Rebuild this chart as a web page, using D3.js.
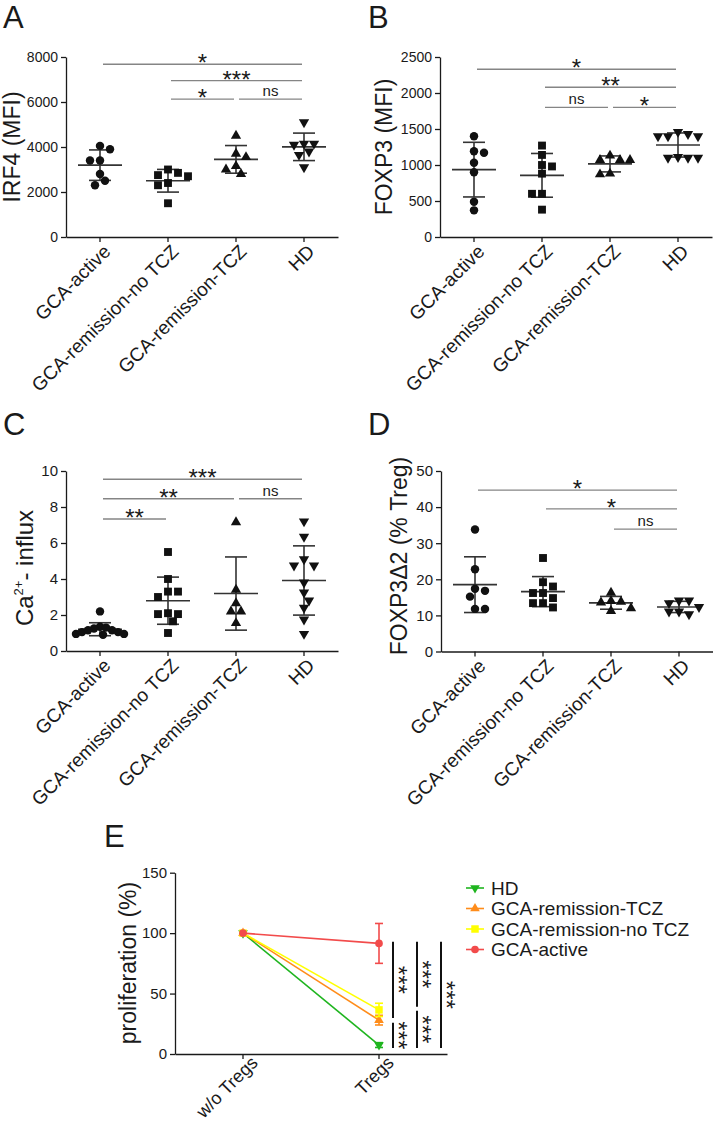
<!DOCTYPE html>
<html><head><meta charset="utf-8">
<script src="https://cdn.jsdelivr.net/npm/d3@7"></script>
<style>
body{margin:0;background:#fff}
text{font-family:"Liberation Sans",Arial,Helvetica,sans-serif}
</style>
</head><body>
<svg id="fig" width="713" height="1122"></svg>
<script>
// ---------------- DATA ----------------
const groups = ["GCA-active","GCA-remission-no TCZ","GCA-remission-TCZ","HD"];

// Panel A: IRF4 (MFI)
const irf4Active = [3900,4050,3400,3400,2800,2300,2500];
const irf4NoTcz  = [3000,2750,2700,2850,2400,2300,1500];
const irf4Tcz    = [4500,3700,3550,3150,3000,2800];
const irf4Hd     = [5100,4150,4150,4100,3800,3650,3100];
const irf4Ticks  = [0,2000,4000,6000,8000];
const irf4Sig    = [{a:0,b:3,y:7675,t:"*"},{a:1,b:3,y:6950,t:"***"},{a:1,b:2,y:6130,t:"*"},{a:2,b:3,y:6130,t:"ns"}];

// Panel B: FOXP3 (MFI)
const foxp3Active = [1400,1170,1190,1030,900,490,370];
const foxp3NoTcz  = [1270,1140,1000,980,880,600,600,380];
const foxp3Tcz    = [1130,1070,1070,1070,870,880];
const foxp3Hd     = [1430,1400,1400,1400,1460,1110,1100,1100,1100];
const foxp3Ticks  = [0,500,1000,1500,2000,2500];
const foxp3Sig    = [{a:0,b:3,y:2330,t:"*"},{a:1,b:3,y:2080,t:"**"},{a:1,b:2,y:1800,t:"ns"},{a:2,b:3,y:1800,t:"*"}];

// Panel C: Ca2+ influx
const caActive = [2.2,1.35,1.25,1.15,1.05,0.95,0.9,0.95,1.05,1.15,1.3];
const caNoTcz  = [5.5,4.0,3.3,3.3,3.0,2.05,2.05,2.1,1.65,1.0];
const caTcz    = [7.15,3.4,2.65,2.2,2.2,1.55];
const caHd     = [7.2,6.35,5.1,4.75,4.75,3.8,3.25,2.8,2.4,1.75,0.95];
const caTicks  = [0,2,4,6,8,10];
const caSig    = [{a:0,b:3,y:9.54,t:"***"},{a:0,b:2,y:8.46,t:"**"},{a:2,b:3,y:8.46,t:"ns"},{a:0,b:1,y:7.33,t:"**"}];

// Panel D: FOXP3Δ2 (% Treg)
const d2Active = [33.8,22.8,16.8,17.4,15.2,11.8,11.8];
const d2NoTcz  = [25.9,19.2,18.0,16.2,16.2,14.8,13.4,13.4,12.2];
const d2Tcz    = [16.3,13.6,14.0,13.8,11.2,12.0];
const d2Hd     = [13.4,14.1,14.1,12.3,11.1,10.3,11.1];
const d2Ticks  = [0,10,20,30,40,50];
const d2Sig    = [{a:0,b:3,y:44.7,t:"*"},{a:1,b:3,y:39.5,t:"*"},{a:2,b:3,y:33.9,t:"ns"}];

// Panel E: proliferation (%)
const eCats    = ["w/o Tregs","Tregs"];
const eSeries  = ["HD","GCA-remission-TCZ","GCA-remission-no TCZ","GCA-active"];
const eHd      = [100,7.4];   const eHdErr     = [0,2];
const eTcz     = [100,28];    const eTczErr    = [0,4];
const eNoTcz   = [100,36.5];  const eNoTczErr  = [0,5.5];
const eActive  = [100,91.5];  const eActiveErr = [0,16.5];
const eTicks   = [0,50,100,150];
const eSig     = [{col:0,y1:92.9,y2:29.8,t:"***"},{col:0,y1:25.9,y2:5,t:"***"},
                  {col:1,y1:92.9,y2:39.1,t:"***"},{col:1,y1:35.8,y2:5,t:"***"},
                  {col:2,y1:92.9,y2:5,t:"***"}];

// ---------------- DRAWING ----------------
const svg = d3.select("#fig");
const INK = "#1a1a1a", GRAY = "#858585";
const shapes = [d3.symbolCircle, d3.symbolSquare, d3.symbolTriangle, d3.symbolTriangle];
const shapeSizes = [56, 62, 46, 46];
const shapeRot = [0, 0, 0, 180];

function swarm(values, y, minDist, step, maxW) {
  const order = values.map((v,i)=>i).sort((a,b)=>values[b]-values[a]);
  const placed = [], off = new Array(values.length);
  let side = 1;
  for (const i of order) {
    const py = y(values[i]);
    let chosen = null;
    for (let k=0; k<60 && chosen===null; k++) {
      const cands = k===0 ? [0] : [side*k*step, -side*k*step];
      for (const c of cands) {
        if (placed.every(p => Math.hypot(p.x-c, p.y-py) >= minDist)) { chosen = c; break; }
      }
    }
    if (chosen !== 0) side = chosen > 0 ? -1 : 1;
    placed.push({x:chosen, y:py}); off[i] = chosen;
  }
  const w = d3.max(off, Math.abs);
  const k = w > maxW ? maxW / w : 1;
  return off.map(o => o * k);
}

function letter(t, x, y) {
  svg.append("text").attr("x", x).attr("y", y).attr("font-size", 31).attr("fill", INK).text(t);
}

function styleAxis(sel, fs) {
  sel.selectAll("path.domain").attr("stroke", INK).attr("stroke-width", 1.3);
  sel.selectAll(".tick line").attr("stroke", INK).attr("stroke-width", 1.3);
  sel.selectAll(".tick text").attr("fill", INK).attr("font-size", fs)
     .style("font-family", '"Liberation Sans",Arial,sans-serif');
}

function dotPanel(o) {
  const g = svg.append("g");
  const x = d3.scaleBand().domain(groups).range([o.left, o.right]);
  const cx = d => x(d) + x.bandwidth()/2;
  const y = d3.scaleLinear().domain([0, o.max]).range([o.bottom, o.top]);

  const ya = g.append("g").attr("transform", `translate(${o.left},0)`)
    .call(d3.axisLeft(y).tickValues(o.ticks).tickSize(5).tickSizeOuter(0).tickPadding(3).tickFormat(d3.format("d")));
  styleAxis(ya, o.tickFs);
  const xa = g.append("g").attr("transform", `translate(0,${o.bottom})`)
    .call(d3.axisBottom(x).tickSize(5).tickSizeOuter(0));
  styleAxis(xa, 19);
  xa.selectAll(".tick text").attr("x", 0).attr("y", 0).attr("dy", "0.35em")
    .attr("text-anchor", "end").attr("transform", `translate(7,11) rotate(-45)`);

  // title
  const tt = g.append("text").attr("text-anchor", "middle").attr("fill", INK)
    .attr("font-size", o.titleFs).attr("dy", "0.35em")
    .attr("transform", `translate(${o.titleX},${o.titleY ?? (o.top+o.bottom)/2}) rotate(-90)`);
  o.title(tt);

  // points + mean/SD
  o.series.forEach((vals, gi) => {
    const xc = cx(groups[gi]);
    const off = swarm(vals, y, 8.2, 5, 24);
    const m = d3.mean(vals), sd = d3.deviation(vals);
    const lg = g.append("g").attr("stroke", "#333").attr("stroke-width", 1.6).attr("fill", "none");
    lg.append("line").attr("x1", xc-22).attr("x2", xc+22).attr("y1", y(m)).attr("y2", y(m));
    lg.append("line").attr("x1", xc).attr("x2", xc).attr("y1", y(m+sd)).attr("y2", y(Math.max(0,m-sd)));
    lg.append("line").attr("x1", xc-11).attr("x2", xc+11).attr("y1", y(m+sd)).attr("y2", y(m+sd));
    if (m - sd > 0) lg.append("line").attr("x1", xc-11).attr("x2", xc+11).attr("y1", y(m-sd)).attr("y2", y(m-sd));
    const sym = d3.symbol().type(shapes[gi]).size(shapeSizes[gi]);
    g.append("g").selectAll("path").data(vals).join("path")
      .attr("d", sym())
      .attr("fill", "#111")
      .attr("transform", (d,i) => `translate(${xc+off[i]},${y(d)}) rotate(${shapeRot[gi]})`);
  });

  // significance
  o.sig.forEach(s => {
    const x1 = cx(groups[s.a]) + 3, x2 = cx(groups[s.b]) - 2;
    const ly = y(s.y);
    g.append("line").attr("x1", x1).attr("x2", x2).attr("y1", ly).attr("y2", ly)
      .attr("stroke", GRAY).attr("stroke-width", 1.4);
    const isNs = s.t === "ns";
    g.append("text").attr("x", (x1+x2)/2).attr("y", isNs ? ly-3 : ly+7)
      .attr("text-anchor", "middle").attr("fill", INK)
      .attr("font-size", isNs ? 15 : 24).text(s.t);
  });
}

// Panel A
letter("A", 3, 28);
dotPanel({left:66, right:338, top:57, bottom:237, max:8000, ticks:irf4Ticks, tickFs:14,
  titleX:12, titleFs:23, title:t=>t.text("IRF4 (MFI)"),
  series:[irf4Active, irf4NoTcz, irf4Tcz, irf4Hd], sig:irf4Sig});

// Panel B
letter("B", 368, 28);
dotPanel({left:440, right:712, top:57, bottom:237, max:2500, ticks:foxp3Ticks, tickFs:14,
  titleX:384, titleFs:23, title:t=>t.text("FOXP3 (MFI)"),
  series:[foxp3Active, foxp3NoTcz, foxp3Tcz, foxp3Hd], sig:foxp3Sig});

// Panel C
letter("C", 3, 435);
dotPanel({left:66, right:338, top:471, bottom:651, max:10, ticks:caTicks, tickFs:15,
  titleX:25, titleFs:24, titleY:568,
  title:t=>{ t.append("tspan").text("Ca");
             t.append("tspan").attr("dy", -10).attr("font-size", 13).text("2+");
             t.append("tspan").attr("dy", 10).text("- influx"); },
  series:[caActive, caNoTcz, caTcz, caHd], sig:caSig});

// Panel D
letter("D", 368, 435);
dotPanel({left:441, right:713, top:471, bottom:651.5, max:50, ticks:d2Ticks, tickFs:15,
  titleX:399, titleFs:23, titleY:556, title:t=>t.text("FOXP3Δ2 (% Treg)"),
  series:[d2Active, d2NoTcz, d2Tcz, d2Hd], sig:d2Sig});

// Panel E
letter("E", 104, 847);
(function(){
  const g = svg.append("g");
  const left = 175, right = 447, top = 872.7, bottom = 1054;
  const x = d3.scaleBand().domain(eCats).range([left, right]);
  const cx = d => x(d) + x.bandwidth()/2;
  const y = d3.scaleLinear().domain([0,150]).range([bottom, top]);
  const ya = g.append("g").attr("transform", `translate(${left},0)`)
    .call(d3.axisLeft(y).tickValues(eTicks).tickSize(5).tickSizeOuter(0).tickPadding(3));
  styleAxis(ya, 15);
  const xa = g.append("g").attr("transform", `translate(0,${bottom})`)
    .call(d3.axisBottom(x).tickSize(5).tickSizeOuter(0));
  styleAxis(xa, 18);
  xa.selectAll(".tick text").attr("x", 0).attr("y", 0).attr("dy", "0.3em")
    .attr("text-anchor", "end").attr("transform", `translate(12,6) rotate(-45)`);
  g.append("text").attr("text-anchor", "middle").attr("fill", INK).attr("font-size", 23)
    .attr("dy", "0.3em").attr("transform", `translate(129,963) rotate(-90)`).text("proliferation (%)");

  const colors = ["#1fb51f", "#ff8c1a", "#ffff00", "#f24b4b"];
  const eShape = [d3.symbolTriangle, d3.symbolTriangle, d3.symbolSquare, d3.symbolCircle];
  const eSize = [40, 40, 56, 46];
  const eRot = [180, 0, 0, 0];
  const vals = [eHd, eTcz, eNoTcz, eActive];
  const errs = [eHdErr, eTczErr, eNoTczErr, eActiveErr];
  const line = d3.line().x((d,i) => cx(eCats[i])).y(d => y(d));
  vals.forEach((v, si) => {
    const c = colors[si];
    g.append("path").attr("d", line(v)).attr("fill", "none").attr("stroke", c).attr("stroke-width", 1.6);
    v.forEach((d, i) => {
      const e = errs[si][i];
      if (e > 0) {
        const xc = cx(eCats[i]);
        g.append("line").attr("x1", xc).attr("x2", xc).attr("y1", y(d+e)).attr("y2", y(d-e)).attr("stroke", c).attr("stroke-width", 1.6);
        [d+e, d-e].forEach(q => g.append("line").attr("x1", xc-4).attr("x2", xc+4).attr("y1", y(q)).attr("y2", y(q)).attr("stroke", c).attr("stroke-width", 1.6));
      }
    });
    g.append("g").selectAll("path").data(v).join("path")
      .attr("d", d3.symbol().type(eShape[si]).size(eSize[si])())
      .attr("fill", c)
      .attr("transform", (d,i) => `translate(${cx(eCats[i])},${y(d)}) rotate(${eRot[si]})`);
  });

  // significance (vertical)
  const tx = cx("Tregs");
  const colOff = [14, 38, 62];
  eSig.forEach(s => {
    const lx = tx + colOff[s.col];
    g.append("line").attr("x1", lx).attr("x2", lx).attr("y1", y(s.y1)).attr("y2", y(s.y2))
      .attr("stroke", "#111").attr("stroke-width", 2);
    g.append("text").attr("text-anchor", "middle").attr("font-size", 24).attr("fill", INK)
      .attr("transform", `translate(${lx-3},${y((s.y1+s.y2)/2)}) rotate(90)`).text(s.t);
  });

  // legend
  const lg = svg.append("g");
  eSeries.forEach((name, i) => {
    const ry = 888 + i*20.5;
    lg.append("line").attr("x1", 466).attr("x2", 484).attr("y1", ry).attr("y2", ry)
      .attr("stroke", colors[i]).attr("stroke-width", 1.6);
    lg.append("path").attr("d", d3.symbol().type(eShape[i]).size(eSize[i])())
      .attr("fill", colors[i]).attr("transform", `translate(475,${ry}) rotate(${eRot[i]})`);
    lg.append("text").attr("x", 491).attr("y", ry + 6.5).attr("font-size", 19).attr("fill", INK).text(name);
  });
})();
</script>
</body></html>
